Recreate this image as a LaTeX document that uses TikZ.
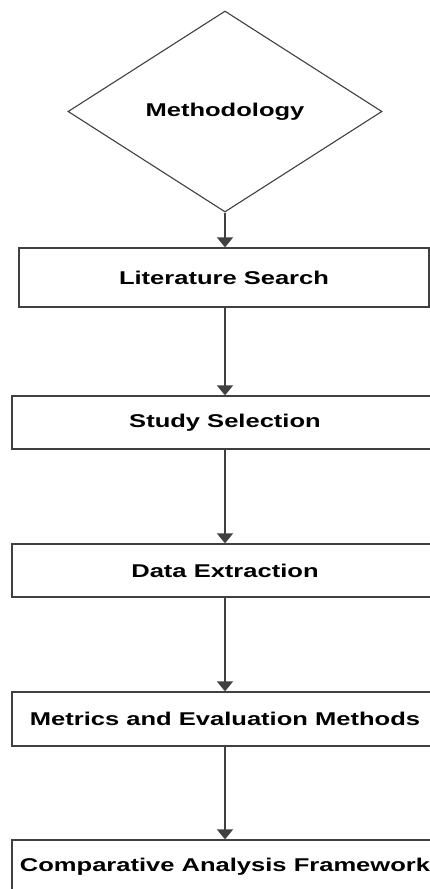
\documentclass[tikz,border=0pt]{standalone}
\usepackage{fontspec}
\setmainfont{Liberation Sans}
\usetikzlibrary{shapes.geometric,arrows.meta}
\newcommand{\lbl}[1]{\scalebox{1.38}[1]{\fontsize{18.5}{20}\selectfont\bfseries #1}}
\begin{document}
\begin{tikzpicture}[x=1pt,y=-1pt,
  stepbox/.style={draw=black!75, line width=1.3pt, rectangle, inner sep=0pt,
    minimum width=426pt, minimum height=53pt},
  decbox/.style={draw=black!75, line width=1.1pt, diamond, inner sep=0pt,
    minimum width=314pt, minimum height=201pt},
  conn/.style={draw=black!75, line width=1.4pt, -{Triangle[width=16pt,length=10pt]}}]
\useasboundingbox (0,0) rectangle (430,889);
\clip (0,0) rectangle (430,889);
\fill[white] (0,0) rectangle (430,889);
\node[decbox] (m) at (225,111.5) {\lbl{Methodology}};
\node[stepbox, minimum width=410pt, minimum height=59pt] (lit) at (224,277.5) {\lbl{Literature Search}};
\node[stepbox] (sel) at (225,422.5) {\lbl{Study Selection}};
\node[stepbox] (dat) at (225,570.5) {\lbl{Data Extraction}};
\node[stepbox, minimum height=54pt] (met) at (225,719) {\lbl{Metrics and Evaluation Methods}};
\node[stepbox] (cmp) at (225,866.5) {\lbl{Comparative Analysis Framework}};
\draw[conn] (m.south) -- (m.south |- lit.north);
\draw[conn] (lit.south -| m.south) -- (m.south |- sel.north);
\draw[conn] (sel.south) -- (dat.north);
\draw[conn] (dat.south) -- (met.north);
\draw[conn] (met.south) -- (cmp.north);
\end{tikzpicture}
\end{document}
